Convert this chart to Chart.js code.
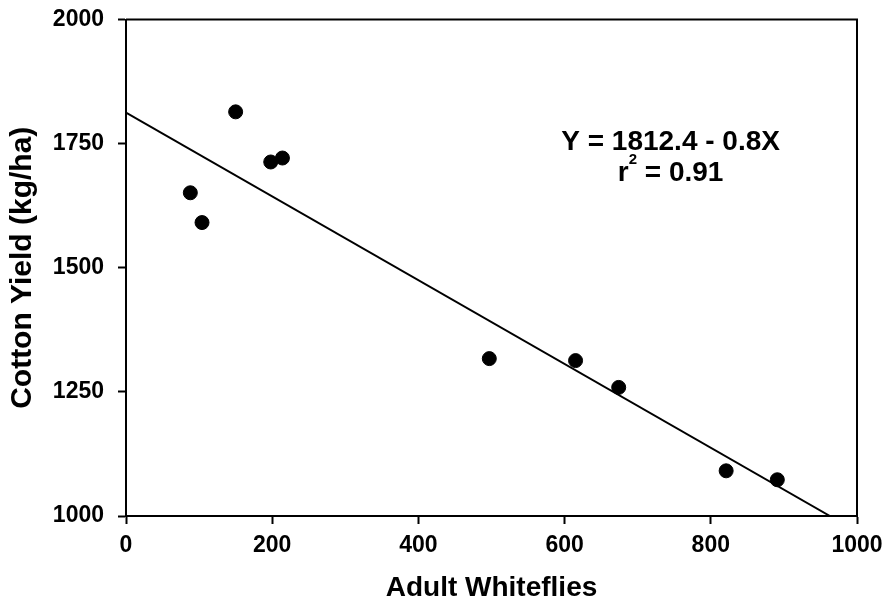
<!DOCTYPE html>
<html>
<head>
<meta charset="utf-8">
<script src="https://cdn.jsdelivr.net/npm/chart.js@4/dist/chart.umd.min.js"></script>
<style>
    html, body { margin: 0; padding: 0; background: #fff; }
    #wrap { width: 885px; height: 603px; }
</style>
</head>
<body>
<div id="wrap"><canvas id="grafico"></canvas></div>
<script>
// puntos
const moscas = [88, 104, 150, 198, 214, 497, 615, 674, 821, 891];
const rendimiento = [1651, 1591, 1814, 1713, 1721, 1317, 1313, 1259, 1091, 1073];

// recta de regresion (extremos)
const rectaX = [0, 963];
const rectaY = [1812.4, 1000];

const ticksX = [0, 200, 400, 600, 800, 1000];
const ticksY = [1000, 1250, 1500, 1750, 2000];

const ecuacion = "Y = 1812.4 - 0.8X";
const r2Texto = ["r", "2", " = 0.91"];

const fuente = "'Liberation Sans', Arial, sans-serif";

// marco superior y derecho + texto de la ecuacion
const marcoYTexto = {
    id: "marcoYTexto",
    afterDraw(chart) {
        const ctx = chart.ctx;
        const a = chart.chartArea;
        ctx.save();
        ctx.strokeStyle = "#000";
        ctx.lineWidth = 2;
        ctx.beginPath();
        ctx.moveTo(a.left, a.top);
        ctx.lineTo(a.right, a.top);
        ctx.lineTo(a.right, a.bottom);
        ctx.stroke();

        const sx = chart.scales.x, sy = chart.scales.y;
        const cx = sx.getPixelForValue(745);
        ctx.fillStyle = "#000";
        ctx.textBaseline = "alphabetic";
        ctx.textAlign = "center";
        ctx.font = "bold 28px " + fuente;
        ctx.fillText(ecuacion, cx, sy.getPixelForValue(1737));

        // r^2 con superindice
        const base = sy.getPixelForValue(1675);
        ctx.textAlign = "left";
        let w1 = ctx.measureText(r2Texto[0]).width;
        let w3 = ctx.measureText(r2Texto[2]).width;
        ctx.font = "bold 15px " + fuente;
        let w2 = ctx.measureText(r2Texto[1]).width;
        let x = cx - (w1 + w2 + w3) / 2;
        ctx.font = "bold 28px " + fuente;
        ctx.fillText(r2Texto[0], x, base);
        ctx.font = "bold 15px " + fuente;
        ctx.fillText(r2Texto[1], x + w1, base - 17);
        ctx.font = "bold 28px " + fuente;
        ctx.fillText(r2Texto[2], x + w1 + w2, base);
        ctx.restore();
    }
};

new Chart(document.getElementById("grafico"), {
    type: "scatter",
    data: {
        datasets: [{
            label: "Datos",
            data: moscas.map((m, i) => ({ x: m, y: rendimiento[i] })),
            backgroundColor: "#000",
            borderColor: "#000",
            pointRadius: 7,
            pointHoverRadius: 7
        }, {
            label: "Regresion",
            type: "line",
            data: rectaX.map((m, i) => ({ x: m, y: rectaY[i] })),
            borderColor: "#000",
            borderWidth: 2,
            pointRadius: 0,
            fill: false
        }]
    },
    plugins: [marcoYTexto],
    options: {
        responsive: true,
        maintainAspectRatio: false,
        animation: false,
        layout: {
            padding: { left: 0, right: 28, top: 19.5, bottom: 0 }
        },
        plugins: {
            legend: { display: false },
            tooltip: { enabled: false }
        },
        scales: {
            x: {
                type: "linear",
                min: 0,
                max: 1000,
                afterBuildTicks: (axis) => { axis.ticks = ticksX.map(v => ({ value: v })); },
                afterFit: (axis) => {
                    axis.height = 87;
                    axis.paddingLeft = 0;
                    axis.paddingRight = 0;
                },
                grid: { drawOnChartArea: false, tickLength: 8, tickWidth: 2, tickColor: "#000" },
                border: { color: "#000", width: 2 },
                ticks: {
                    color: "#000",
                    padding: 8,
                    maxRotation: 0,
                    callback: (v) => String(v),
                    font: { family: fuente, size: 23, weight: "bold" }
                },
                title: {
                    display: true,
                    text: "Adult Whiteflies",
                    color: "#000",
                    padding: { top: 0, bottom: 0 },
                    font: { family: fuente, size: 28, weight: "bold", lineHeight: 1.05 }
                }
            },
            y: {
                type: "linear",
                min: 1000,
                max: 2000,
                afterBuildTicks: (axis) => { axis.ticks = ticksY.map(v => ({ value: v })); },
                afterFit: (axis) => {
                    axis.width = 126;
                    axis.paddingTop = 0;
                    axis.paddingBottom = 0;
                },
                grid: { drawOnChartArea: false, tickLength: 8, tickWidth: 2, tickColor: "#000" },
                border: { color: "#000", width: 2 },
                ticks: {
                    color: "#000",
                    padding: 14,
                    callback: (v) => String(v),
                    font: { family: fuente, size: 23, weight: "bold" }
                },
                title: {
                    display: true,
                    text: "Cotton Yield (kg/ha)",
                    color: "#000",
                    padding: { top: 5, bottom: 0 },
                    font: { family: fuente, size: 30, weight: "bold" }
                }
            }
        }
    }
});
</script>
</body>
</html>
